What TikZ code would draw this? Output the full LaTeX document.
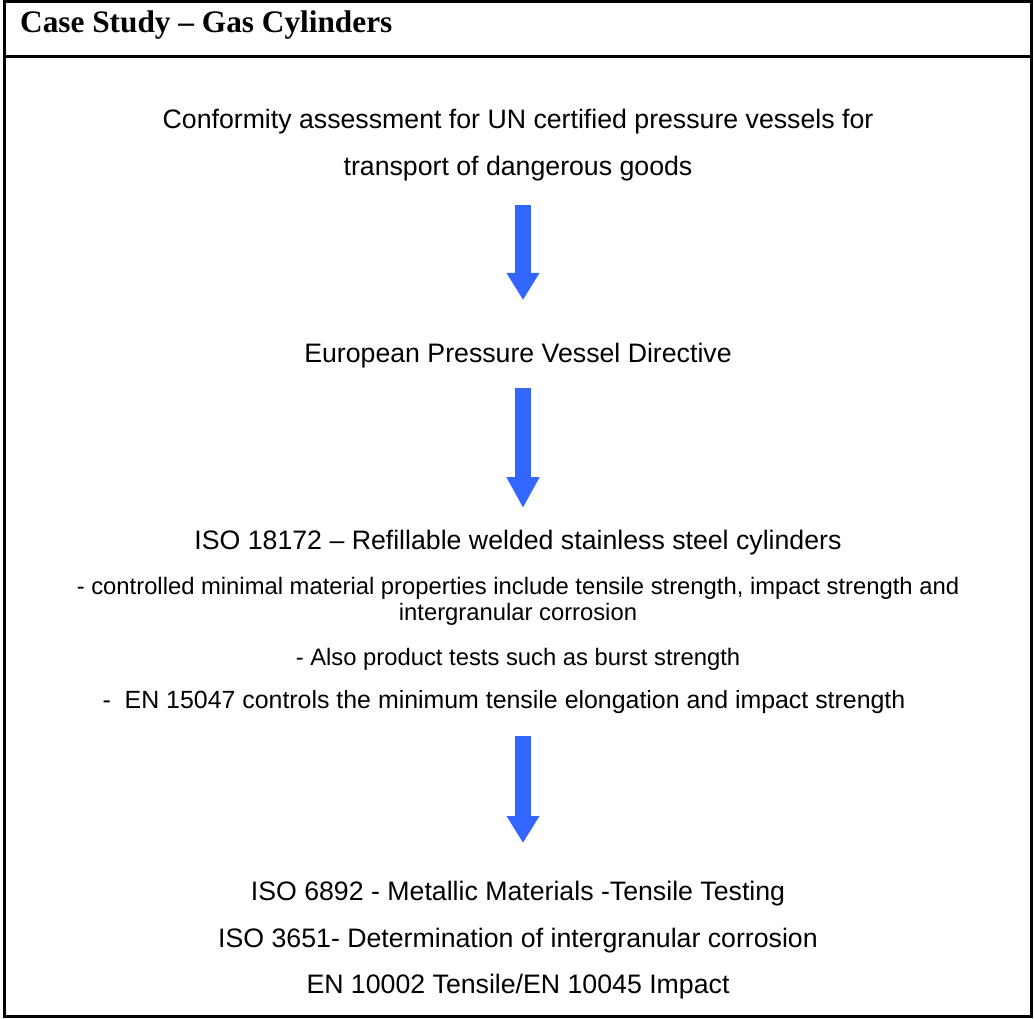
\documentclass[tikz,border=0pt]{standalone}
\usepackage{fontspec}
\setmainfont{Liberation Sans}
\newfontfamily\titlefont{Liberation Serif}
\usetikzlibrary{arrows.meta}
\definecolor{arrowblue}{HTML}{3366FF}
\begin{document}
\begin{tikzpicture}[x=1pt,y=-1pt,
  frame/.style={line width=3pt,black},
  bigtext/.style={anchor=base,inner sep=0pt,font=\fontsize{26.7}{30}\selectfont},
  smalltext/.style={anchor=base,inner sep=0pt,font=\fontsize{23.8}{26}\selectfont},
  blockarrow/.style={arrowblue,line width=16pt,
    -{Triangle[width=31pt,length=#1]}},
  blockarrow/.default=28pt]
\useasboundingbox (0,0) rectangle (1034,1019);
% outer frame and title bar
\draw[frame] (4,2) rectangle (1031,1016);
\draw[frame] (4,57) -- (1031,57);
\node[anchor=base west,inner sep=0pt,font=\titlefont\bfseries\fontsize{31.3}{34}\selectfont]
  (title) at (20,33) {Case Study \textendash{} Gas Cylinders};
% flow text
\node[bigtext] (conf1) at (518,129) {Conformity assessment for UN certified pressure vessels for};
\node[bigtext] (conf2) at (518,176) {transport of dangerous goods};
\node[bigtext] (pvd) at (518,362) {European Pressure Vessel Directive};
\node[bigtext] (iso18172) at (518,549) {ISO 18172 \textendash{} Refillable welded stainless steel cylinders};
\node[smalltext] (ctrl1) at (518,594) {- controlled minimal material properties include tensile strength, impact strength and};
\node[smalltext] (ctrl2) at (518,620) {intergranular corrosion};
\node[smalltext] (burst) at (518,665) {- Also product tests such as burst strength};
\node[smalltext,font=\fontsize{24.9}{27}\selectfont] (en15047) at (504,708)
  {-\ \ EN 15047 controls the minimum tensile elongation and impact strength};
\node[bigtext] (iso6892) at (518,900) {ISO 6892 - Metallic Materials -Tensile Testing};
\node[bigtext] (iso3651) at (518,947) {ISO 3651- Determination of intergranular corrosion};
\node[bigtext] (en10002) at (518,993) {EN 10002 Tensile/EN 10045 Impact};
% arrow end points
\coordinate (a1s) at (523,205);
\coordinate (a1e) at (523,300);
\coordinate (a2s) at (523,388);
\coordinate (a2e) at (523,508);
\coordinate (a3s) at (523,736);
\coordinate (a3e) at (523,843);
\draw[blockarrow=27pt] (a1s) -- (a1e);
\draw[blockarrow=31pt] (a2s) -- (a2e);
\draw[blockarrow=27pt] (a3s) -- (a3e);
\end{tikzpicture}
\end{document}
